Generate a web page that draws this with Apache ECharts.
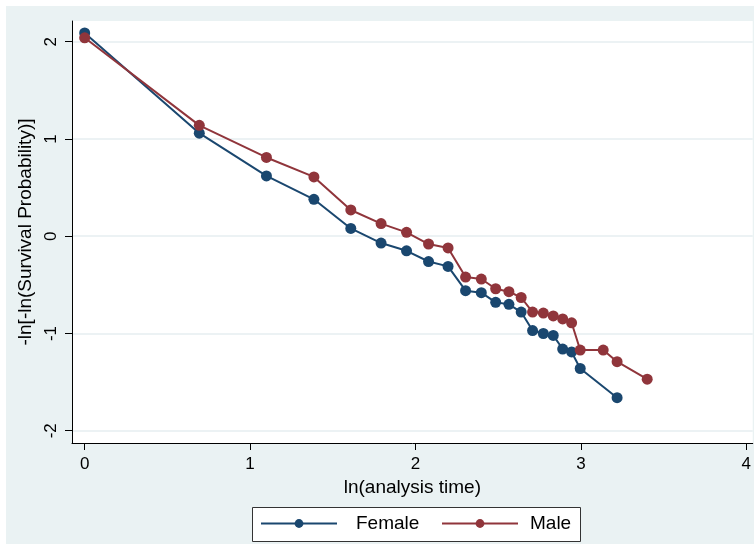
<!DOCTYPE html>
<html><head><meta charset="utf-8">
<script src="https://cdn.jsdelivr.net/npm/echarts@6/dist/echarts.min.js"></script>
<style>html,body{margin:0;padding:0;background:#fff}#c{width:754px;height:546px}</style>
</head><body><div id="c"></div>
<script>
// ln(analysis time) for each group
const lnTimeFemale = [0, 0.693, 1.099, 1.386, 1.609, 1.792, 1.946, 2.079, 2.197, 2.303, 2.398, 2.485, 2.565, 2.639, 2.708, 2.773, 2.833, 2.890, 2.944, 2.996, 3.219];
const lnTimeMale   = [0, 0.693, 1.099, 1.386, 1.609, 1.792, 1.946, 2.079, 2.197, 2.303, 2.398, 2.485, 2.565, 2.639, 2.708, 2.773, 2.833, 2.890, 2.944, 2.996, 3.135, 3.219, 3.401];
// -ln[-ln(Survival Probability)]
const femaleValues = [2.09, 1.06, 0.62, 0.38, 0.08, -0.07, -0.15, -0.26, -0.31, -0.56, -0.58, -0.68, -0.70, -0.78, -0.97, -1.00, -1.02, -1.16, -1.19, -1.36, -1.66];
const maleValues   = [2.04, 1.14, 0.81, 0.61, 0.27, 0.13, 0.04, -0.08, -0.12, -0.42, -0.44, -0.54, -0.57, -0.63, -0.78, -0.79, -0.82, -0.85, -0.89, -1.17, -1.17, -1.29, -1.47];
const xTicks = [0, 1, 2, 3, 4];
const yTicks = [-2, -1, 0, 1, 2];
const seriesNames = ['Female', 'Male'];

const FONT = 'Liberation Sans';
const zip = (xs, ys) => xs.map((x, i) => [x, ys[i]]);

const chart = echarts.init(document.getElementById('c'), null, {renderer: 'canvas'});
chart.setOption({
  animation: false,
  backgroundColor: '#ffffff',
  textStyle: {fontFamily: FONT},
  graphic: [
    {type: 'rect', z: -100, silent: true, shape: {x: 6, y: 6, width: 748, height: 538}, style: {fill: '#eaf2f3'}},
    {type: 'rect', z: 1, silent: true, shape: {x: 252.5, y: 507.5, width: 328, height: 34}, style: {fill: '#ffffff', stroke: '#333333', lineWidth: 1}}
  ],
  grid: {left: 72, top: 21, right: 0, bottom: 103, show: true, backgroundColor: '#ffffff', borderWidth: 0},
  xAxis: {
    type: 'value', min: -0.0766, max: 4.039,
    name: 'ln(analysis time)', nameLocation: 'middle', nameGap: 34,
    nameTextStyle: {fontSize: 19, color: '#000', fontFamily: FONT},
    axisLine: {show: true, onZero: false, lineStyle: {color: '#000', width: 1}},
    axisTick: {show: true, length: 7, customValues: xTicks, lineStyle: {color: '#000'}},
    axisLabel: {customValues: xTicks, fontSize: 17, color: '#000', margin: 13, fontFamily: FONT},
    splitLine: {show: false}
  },
  yAxis: {
    type: 'value', min: -2.126, max: 2.213,
    name: '-ln[-ln(Survival Probability)]', nameLocation: 'middle', nameGap: 28, nameRotate: 90,
    nameTextStyle: {fontSize: 19, color: '#000', fontFamily: FONT},
    axisLine: {show: true, onZero: false, lineStyle: {color: '#000', width: 1}},
    axisTick: {show: true, length: 7, customValues: yTicks, lineStyle: {color: '#000'}},
    axisLabel: {customValues: yTicks, rotate: 90, fontSize: 17, color: '#000', margin: 12, fontFamily: FONT},
    splitLine: {show: true, lineStyle: {color: '#e6eef0', width: 1.5}}
  },
  legend: [
    {data: [seriesNames[0]], left: 260, top: 514, padding: 0, itemWidth: 76, itemHeight: 11, selectedMode: false,
     textStyle: {fontSize: 19, color: '#000', fontFamily: FONT, padding: [3, 0, 0, 14]}},
    {data: [seriesNames[1]], left: 441, top: 514, padding: 0, itemWidth: 76, itemHeight: 11, selectedMode: false,
     textStyle: {fontSize: 19, color: '#000', fontFamily: FONT, padding: [3, 0, 0, 7]}}
  ],
  series: [
    {name: seriesNames[0], type: 'line', data: zip(lnTimeFemale, femaleValues), symbol: 'circle', symbolSize: 11,
     lineStyle: {color: '#1a476f', width: 2}, itemStyle: {color: '#1a476f'}},
    {name: seriesNames[1], type: 'line', data: zip(lnTimeMale, maleValues), symbol: 'circle', symbolSize: 11,
     lineStyle: {color: '#90353b', width: 2}, itemStyle: {color: '#90353b'}}
  ]
});
</script></body></html>
